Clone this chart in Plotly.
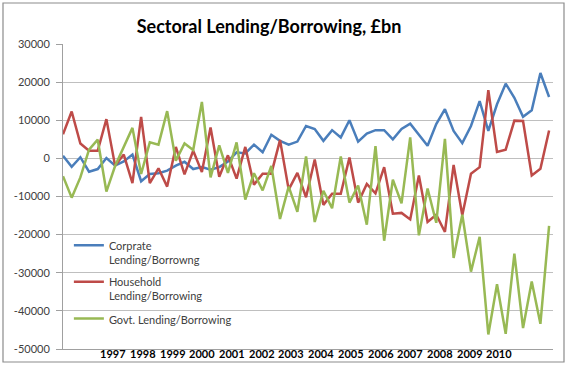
import plotly.graph_objects as go

# ---- data (quarterly) ----
corporate = [700, -2200, 300, -3500, -2800, 100, -1900, -800, 1000, -6000,
             -4100, -3900, -3200, -1900, -900, -2800, -2300, -3000, -2300, -800,
             1600, 1300, 3600, 1600, 6200, 4600, 3600, 4400, 8500, 7700,
             4600, 7400, 5500, 10000, 4400, 6500, 7400, 7400, 5000, 7700,
             9100, 6200, 3300, 9000, 12900, 7200, 4000, 8500, 15000, 7200,
             14200, 19600, 15900, 10900, 12600, 22400, 16100]
household = [6300, 12300, 3900, 2000, 2000, 10300, -1900, 1000, -6500, 10900,
             -6500, -2600, -7400, 3000, -4200, 2000, -3600, 8100, -4800, 800,
             -5300, 3000, -6900, -4000, -4000, 4800, -8200, -3800, -10200, -300,
             -12200, -9300, -9300, 200, -11600, -6700, -9200, -2300, -14500, -14300,
             -16000, -4500, -16700, -14800, -19300, -1700, -14900, -4000, -2300, 17900,
             1700, 2300, 9900, 9800, -4500, -2700, 7300]
government = [-4700, -10300, -5000, 2300, 4900, -8700, -2000, 3000, 8000, -4100,
              4200, 3600, 12400, -600, 3900, 2200, 14800, -5000, 3400, -3800,
              4200, -10800, -3900, -8400, -2000, -15900, -7400, -14000, 500, -16700,
              -8500, -13100, 500, -11600, -7100, -17400, 3200, -21600, -5600, -11800,
              5500, -20200, -7900, -16900, 5100, -26100, -14800, -29700, -20600, -46200,
              -33000, -46000, -25000, -44500, -32300, -43400, -17700]
year_labels = ["1997", "1998", "1999", "2000", "2001", "2002", "2003",
               "2004", "2005", "2006", "2007", "2008", "2009", "2010"]
series_names = ["Corprate<br>Lending/Borrowng",
                "Household<br>Lending/Borrowing",
                "Govt. Lending/Borrowing"]
y_ticks = [30000, 20000, 10000, 0, -10000, -20000, -30000, -40000, -50000]

colors = ["#4A7EBB", "#BE4B48", "#98B954"]
FONT = "Lato"

x = list(range(len(corporate)))

fig = go.Figure()
for i, (name, vals) in enumerate(zip(series_names, [corporate, household, government])):
    fig.add_trace(go.Scatter(x=x, y=vals, mode="lines", name=name,
                             legendgroup=f"g{i}",
                             line=dict(color=colors[i], width=2.5)))

# year label positions (evenly spread like the original category labels)
label_pos = [5.8 + 3.42 * k for k in range(len(year_labels))]
annotations = []
for pos, lab in zip(label_pos, year_labels):
    annotations.append(dict(x=pos, y=0, xref="x", yref="paper", text=lab,
                            showarrow=False, yanchor="middle", yshift=-4,
                            font=dict(family=FONT, size=11, color="#000000",
                                      weight="bold")))

fig.update_layout(
    width=568, height=367,
    margin=dict(l=63, r=15, t=44, b=18),
    paper_bgcolor="white", plot_bgcolor="white",
    title=dict(text="Sectoral Lending/Borrowing, £bn",
               x=269 / 568, xref="container", xanchor="center",
               y=1 - 27 / 367, yref="container", yanchor="middle",
               font=dict(family=FONT, size=18, color="#000000", weight="bold")),
    showlegend=True,
    legend=dict(x=0.012, y=0.385, xanchor="left", yanchor="top",
                bgcolor="rgba(0,0,0,0)", borderwidth=0,
                font=dict(family=FONT, size=11, color="#404040"),
                valign="top", tracegroupgap=5, itemwidth=30),
    xaxis=dict(range=[0, 56.45], showgrid=False, zeroline=False,
               showticklabels=False, ticks="",
               showline=True, linecolor="#A0A0A0", linewidth=1),
    yaxis=dict(range=[-50000, 30000], tickvals=y_ticks,
               ticktext=[str(v) for v in y_ticks],
               showgrid=True, gridcolor="#BFBFBF", gridwidth=1.3,
               zeroline=False, showline=True, linecolor="#A0A0A0", linewidth=1,
               ticks="outside", ticklen=6, tickcolor="#A0A0A0",
               ticklabelstandoff=4,
               tickfont=dict(family=FONT, size=11, color="#404040")),
    annotations=annotations,
    shapes=[dict(type="rect", xref="paper", yref="paper",
                 x0=(3 - 63) / 490, x1=(564 - 63) / 490,
                 y0=(349 - 362) / 305, y1=(349 - 3) / 305,
                 line=dict(color="#8C8C8C", width=1.2), layer="below")],
)

fig.write_html("out.html",
               config={"displayModeBar": False},
               post_script="document.body.style.margin='0';document.body.style.overflow='hidden';")
